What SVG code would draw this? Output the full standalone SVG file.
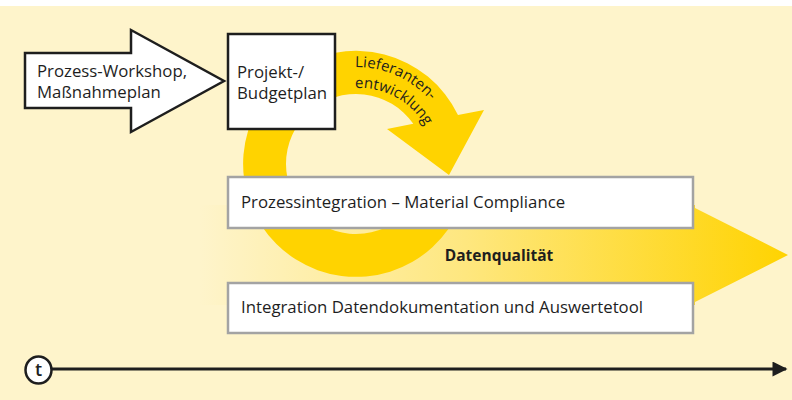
<svg xmlns="http://www.w3.org/2000/svg" width="792" height="400" viewBox="0 0 792 400">
<defs>
<style>
.lbl{font-family:"Open Sans","Liberation Sans",sans-serif;font-size:16.8px;fill:#1e1e1e}
.box{fill:#ffffff;stroke:#a3a3a3;stroke-width:2.5}
.blk{fill:#ffffff;stroke:#1e1e1e;stroke-width:2.5;stroke-linejoin:miter}
.arc{font-family:"Open Sans","Liberation Sans",sans-serif;font-size:15px;fill:#1e1e1e}
</style>
<linearGradient id="shaftGrad" x1="200" y1="0" x2="790" y2="0" gradientUnits="userSpaceOnUse">
<stop offset="0" stop-color="#fef4cb"/>
<stop offset="0.45" stop-color="#fee77f"/>
<stop offset="1" stop-color="#ffd300"/>
</linearGradient>
<marker id="tip" viewBox="0 0 10 10" refX="9" refY="5" markerWidth="6" markerHeight="5" markerUnits="strokeWidth" orient="auto">
<path d="M0,0 L10,5 L0,10 z" fill="#1e1e1e"/>
</marker>
<path id="arc1" d="M 355 67 A 97 97 0 0 1 450 137"/>
<path id="arc2" d="M 355 88 A 76 76 0 0 1 434 150"/>
</defs>

<rect x="0" y="0" width="792" height="400" fill="#ffffff"/>
<rect x="0" y="6" width="792" height="394" fill="#fef4cb"/>

<g id="datenqualitaet">
<path d="M 200 205 L 695 205 L 695 208 L 788 255 L 695 302 L 695 305 L 200 305 z" fill="url(#shaftGrad)"/>
</g>

<g id="lieferantenentwicklung">
<path d="M 448.6 228.8 A 113 113 0 1 1 458 115 L 484 110 L 449 175 L 387 129 L 413.3 123.8 A 70 70 0 1 0 413.3 204.2 z" fill="#ffd300"/>
<text class="arc"><textPath href="#arc1">Lieferanten-</textPath></text>
<text class="arc"><textPath href="#arc2">entwicklung</textPath></text>
</g>

<g id="prozessintegration">
<rect class="box" x="228" y="177" width="465" height="51"/>
<text class="lbl" x="241" y="208">Prozessintegration – Material Compliance</text>
</g>

<g id="datenqualitaet-label">
<text x="499" y="261" text-anchor="middle" style="font-family:'Open Sans','Liberation Sans',sans-serif;font-size:15.5px;font-weight:bold;fill:#1e1e1e">Datenqualität</text>
</g>

<g id="integration">
<rect class="box" x="228" y="283" width="465" height="50"/>
<text class="lbl" x="241" y="313">Integration Datendokumentation und Auswertetool</text>
</g>

<g id="workshop">
<path class="blk" d="M 25 53 L 131 53 L 131 30 L 224 81 L 131 132 L 131 108 L 25 108 z"/>
<text class="lbl" x="37" y="77">Prozess-Workshop,</text>
<text class="lbl" x="37" y="98">Maßnahmeplan</text>
</g>

<g id="projekt">
<rect class="blk" x="228" y="34" width="107" height="95"/>
<text class="lbl" x="237" y="78">Projekt-/</text>
<text class="lbl" x="237" y="99">Budgetplan</text>
</g>

<g id="timeline">
<line x1="52" y1="369" x2="786" y2="369" stroke="#1e1e1e" stroke-width="3" marker-end="url(#tip)"/>
<ellipse cx="38.5" cy="370" rx="13" ry="13.5" fill="#ffffff" stroke="#1e1e1e" stroke-width="2.5"/>
<text x="38.5" y="376" text-anchor="middle" style="font-family:'Open Sans','Liberation Sans',sans-serif;font-size:18px;font-weight:600;fill:#1e1e1e">t</text>
</g>
</svg>
